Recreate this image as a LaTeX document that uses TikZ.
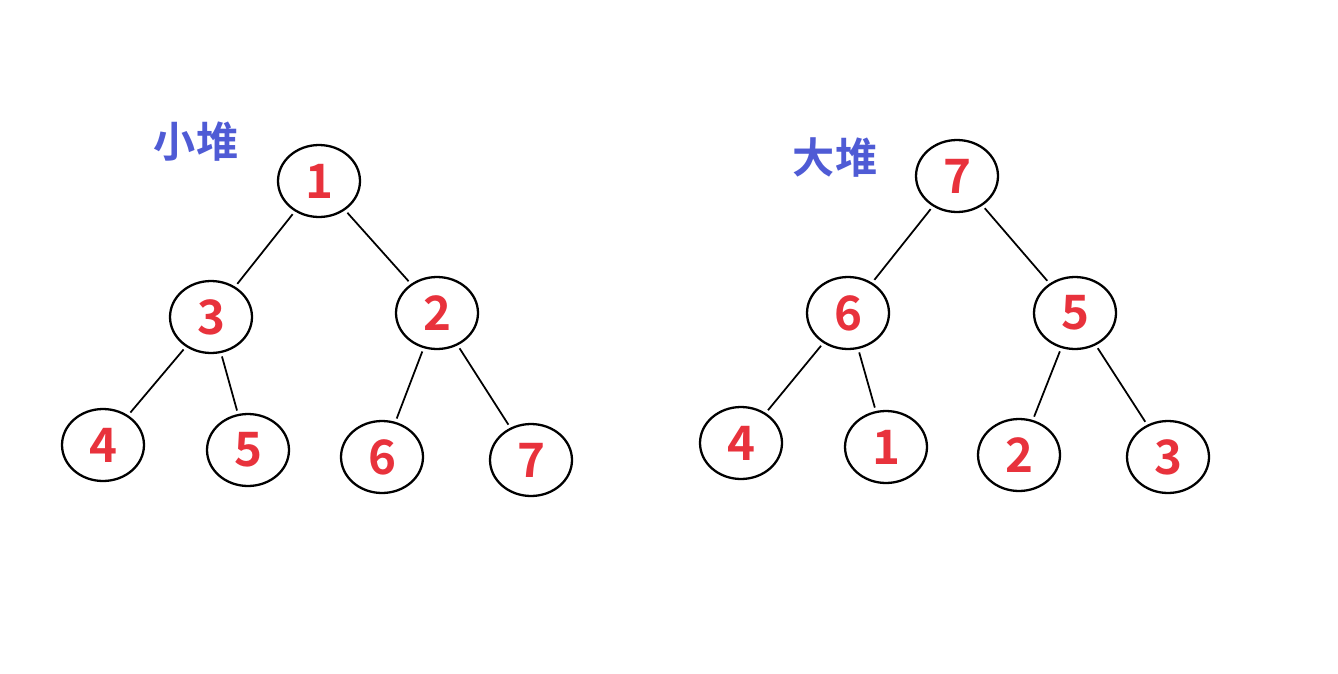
\documentclass[tikz,border=0pt]{standalone}
\usepackage{fontspec}
\setmainfont{Noto Sans CJK SC}[BoldFont={* Bold}]
\usetikzlibrary{shapes.geometric}
\definecolor{numred}{HTML}{E8323C}
\definecolor{lblblue}{HTML}{4F5BD5}
\tikzset{hn/.style={draw=black,line width=1.3pt,ellipse,minimum width=1.64cm,minimum height=1.44cm,inner sep=0pt,text=numred,font=\fontsize{27}{30}\selectfont\bfseries},
ed/.style={line width=1pt,shorten <=2pt,shorten >=2pt},
lbl/.style={text=lblblue,font=\fontsize{24}{28}\selectfont\bfseries}}
\begin{document}
\begin{tikzpicture}[x=0.02cm,y=-0.02cm]
\useasboundingbox (0,0) rectangle (1338,673);
\node[lbl] (L1) at (196,142) {小堆};
\node[lbl] (L2) at (835,158) {大堆};
\node[hn] (a1) at (319,181) {1};
\node[hn] (a3) at (211,317) {3};
\node[hn] (a2) at (437,313) {2};
\node[hn] (a4) at (103,445) {4};
\node[hn] (a5) at (248,450) {5};
\node[hn] (a6) at (382,457) {6};
\node[hn] (a7) at (531,460) {7};
\node[hn] (b7) at (957,176) {7};
\node[hn] (b6) at (848,313) {6};
\node[hn] (b5) at (1075,313) {5};
\node[hn] (b4) at (741,443) {4};
\node[hn] (b1) at (886,447) {1};
\node[hn] (b2) at (1019,455) {2};
\node[hn] (b3) at (1168,457) {3};
\foreach \p/\c in {a1/a3,a1/a2,a3/a4,a3/a5,a2/a6,a2/a7,b7/b6,b7/b5,b6/b4,b6/b1,b5/b2,b5/b3}
  \draw[ed] (\p) -- (\c);
\end{tikzpicture}
\end{document}
